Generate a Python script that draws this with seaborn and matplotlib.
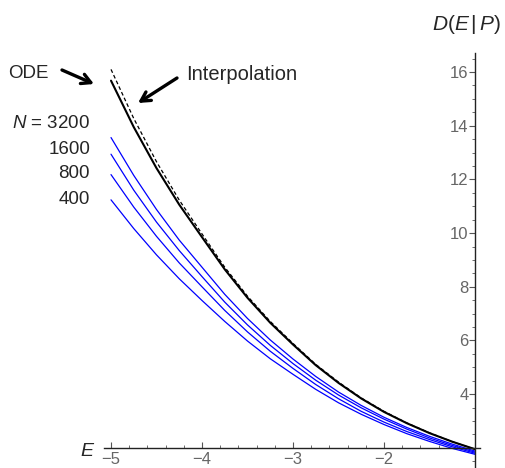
import numpy as np
import pandas as pd
import seaborn as sns
import matplotlib.pyplot as plt
from matplotlib.ticker import MultipleLocator

E = [-5.0, -4.75, -4.5, -4.25, -4.0, -3.75, -3.5, -3.25, -3.0,
     -2.75, -2.5, -2.25, -2.0, -1.75, -1.5, -1.25, -1.0]

# ODE solution (solid black)
ode = [15.68, 13.95, 12.42, 11.06, 9.85, 8.65, 7.59, 6.66, 5.85,
       5.08, 4.42, 3.84, 3.34, 2.92, 2.55, 2.23, 1.95]

# interpolation (dashed black)
interp = [16.10, 14.27, 12.66, 11.23, 9.97, 8.73, 7.65, 6.71, 5.89,
          5.11, 4.45, 3.86, 3.36, 2.93, 2.56, 2.23, 1.95]

# finite N results (blue)
N_labels = ["3200", "1600", "800", "400"]
d3200 = [13.56, 12.15, 10.88, 9.74, 8.73, 7.72, 6.82, 6.02, 5.31,
         4.66, 4.08, 3.58, 3.14, 2.76, 2.43, 2.14, 1.88]
d1600 = [12.94, 11.60, 10.41, 9.35, 8.38, 7.43, 6.58, 5.82, 5.14,
         4.52, 3.97, 3.49, 3.07, 2.70, 2.37, 2.09, 1.84]
d800 = [12.18, 10.97, 9.88, 8.89, 8.00, 7.12, 6.32, 5.60, 4.96,
        4.36, 3.83, 3.36, 2.96, 2.61, 2.31, 2.04, 1.80]
d400 = [11.24, 10.17, 9.19, 8.30, 7.49, 6.71, 5.98, 5.32, 4.74,
        4.18, 3.68, 3.25, 2.87, 2.53, 2.24, 1.98, 1.76]

x_ticks = [-5, -4, -3, -2]
y_ticks = [4, 6, 8, 10, 12, 14, 16]

W, H = 505, 468

def fx(px):
    return px / W

def fy(py):
    return 1 - py / H

sns.set_theme(style="white")
plt.rcParams['font.family'] = ['Liberation Sans', 'DejaVu Sans']
plt.rcParams['mathtext.fontset'] = 'custom'
plt.rcParams['mathtext.it'] = 'Liberation Sans:italic'
plt.rcParams['mathtext.rm'] = 'Liberation Sans'

fig = plt.figure(figsize=(W / 100, H / 100), dpi=100)
ax = fig.add_axes([fx(104), 0, fx(480) - fx(104), fy(53)])

df = pd.DataFrame({"E": E, "ode": ode, "interp": interp,
                   "3200": d3200, "1600": d1600, "800": d800, "400": d400})

for n in N_labels:
    sns.lineplot(data=df, x="E", y=n, ax=ax, color="#0000ff", lw=0.9)
sns.lineplot(data=df, x="E", y="interp", ax=ax, color="black", lw=0.9,
             linestyle=(0, (3, 2)))
sns.lineplot(data=df, x="E", y="ode", ax=ax, color="black", lw=1.5)

ax.set_xlim(-5.077, -0.945)
ax.set_ylim(1.25, 16.71)
ax.set_xlabel("")
ax.set_ylabel("")

for s in ["top", "right"]:
    ax.spines[s].set_visible(False)
ax.spines["left"].set_position(("data", -1))
ax.spines["bottom"].set_position(("data", 2))
for s in ["left", "bottom"]:
    ax.spines[s].set_color("#222222")
    ax.spines[s].set_linewidth(1.0)

ax.set_xticks(x_ticks)
ax.set_xticklabels([f"\u2212{abs(v)}" for v in x_ticks])
ax.xaxis.set_minor_locator(MultipleLocator(0.2))
ax.set_yticks(y_ticks)
ax.yaxis.set_minor_locator(MultipleLocator(0.5))
ax.tick_params(axis="x", which="major", direction="in", length=4, width=0.8,
               color="#555555", labelsize=12, labelcolor="#666666", pad=3)
ax.tick_params(axis="x", which="minor", direction="in", length=2, width=0.6,
               color="#555555")
ax.tick_params(axis="y", which="major", direction="out", length=4, width=0.8,
               color="#555555", labelsize=12, labelcolor="#666666", pad=0.5)
ax.tick_params(axis="y", which="minor", direction="out", length=2, width=0.6,
               color="#555555")
ax.tick_params(bottom=True, left=True, which="both")

# axis labels
fig.text(fx(80), fy(452), "$E$", fontsize=14, va="center", ha="left")
fig.text(fx(432), fy(24), "$D(E\\,|\\,P)$", fontsize=15, va="center", ha="left")

# curve labels
fig.text(fx(8), fy(74), "ODE", fontsize=13.5, va="center", ha="left")
fig.text(fx(186), fy(74), "Interpolation", fontsize=14.5, va="center", ha="left")
label_y = [123, 149, 174, 199]
for i, n in enumerate(N_labels):
    txt = f"$N$ = {n}" if i == 0 else n
    fig.text(fx(90), fy(label_y[i]), txt, fontsize=13.5, va="center", ha="right")

arrow = dict(arrowstyle="->,head_length=0.55,head_width=0.3", lw=2.4,
             color="black", shrinkA=0, shrinkB=0)
ax.annotate("", xy=(fx(94), fy(84)), xytext=(fx(62), fy(70)),
            xycoords="figure fraction", textcoords="figure fraction",
            arrowprops=arrow)
ax.annotate("", xy=(fx(138), fy(103)), xytext=(fx(177), fy(78)),
            xycoords="figure fraction", textcoords="figure fraction",
            arrowprops=arrow)

fig.savefig("out.png", dpi=100)
